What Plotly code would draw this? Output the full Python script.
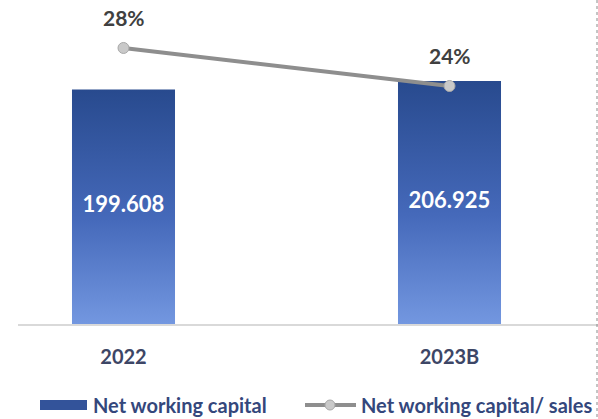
import plotly.graph_objects as go

# ---- data ----
categories = ["2022", "2023B"]
nwc_values = [199.608, 206.925]          # net working capital
nwc_to_sales_pct = [28, 24]              # net working capital / sales, %
series_names = ["Net working capital", "Net working capital/ sales"]

# ---- styling ----
FONT = "Lato"
W, H = 598, 419
ML, MR, MT, MB = 18, 0, 0, 95
PW, PH = W - ML - MR, H - MT - MB
BAR_WIDTH = 0.316
BAR_SCALE = [[0.0, "#7397e0"], [0.45, "#4569ba"], [1.0, "#284a8e"]]
LINE_COLOR = "#8e8e8e"
MARKER_COLOR = "#c9c9c9"
LABEL_NAVY = "#34477c"
CAT_COLOR = "#3d4666"


def px_x(px):
    return (px - ML) / PW


def px_y(py):
    return (MT + PH - py) / PH


positions = list(range(len(categories)))

fig = go.Figure()

# bars as gradient-filled rectangles on the primary axis
for i, v in zip(positions, nwc_values):
    fig.add_trace(go.Scatter(
        x=[i - BAR_WIDTH / 2, i + BAR_WIDTH / 2, i + BAR_WIDTH / 2, i - BAR_WIDTH / 2, i - BAR_WIDTH / 2],
        y=[0, 0, v, v, 0],
        fill="toself", mode="lines",
        line=dict(width=0, color="rgba(0,0,0,0)"),
        fillgradient=dict(type="vertical", colorscale=BAR_SCALE),
        name=series_names[0], hoverinfo="skip", showlegend=False,
    ))

# value labels in the middle of each bar
fig.add_trace(go.Scatter(
    x=positions, y=[v / 2 for v in nwc_values],
    mode="text", text=[f"{v:.3f}" for v in nwc_values],
    textposition="middle center",
    textfont=dict(family=FONT, size=22, color="white", weight="bold"),
    hoverinfo="skip", showlegend=False,
))

# ratio line on the secondary axis
fig.add_trace(go.Scatter(
    x=positions, y=nwc_to_sales_pct, yaxis="y2",
    mode="lines+markers", name=series_names[1],
    line=dict(color=LINE_COLOR, width=4),
    marker=dict(size=11, color=MARKER_COLOR, line=dict(color="#a8a8a8", width=1)),
    showlegend=False,
))

annotations = []
for i, p in zip(positions, nwc_to_sales_pct):
    annotations.append(dict(
        x=i, y=p, xref="x", yref="y2", text=f"{p}%", showarrow=False,
        yshift=30, font=dict(family=FONT, size=21, color="#404040", weight="bold"),
    ))

# legend drawn by hand below the axis
LEG_Y = 405
annotations += [
    dict(x=px_x(91), y=px_y(LEG_Y), xref="paper", yref="paper", xanchor="left", yanchor="middle",
         text=series_names[0], showarrow=False,
         font=dict(family=FONT, size=20, color=LABEL_NAVY, weight="bold")),
    dict(x=px_x(359), y=px_y(LEG_Y), xref="paper", yref="paper", xanchor="left", yanchor="middle",
         text=series_names[1], showarrow=False,
         font=dict(family=FONT, size=20, color=LABEL_NAVY, weight="bold")),
]

shapes = [
    dict(type="rect", xref="paper", yref="paper",
         x0=px_x(40), x1=px_x(87), y0=px_y(LEG_Y + 5), y1=px_y(LEG_Y - 5),
         fillcolor="#33539a", line=dict(width=0)),
    dict(type="line", xref="paper", yref="paper",
         x0=px_x(305), x1=px_x(356), y0=px_y(LEG_Y), y1=px_y(LEG_Y),
         line=dict(color=LINE_COLOR, width=4)),
    dict(type="circle", xref="paper", yref="paper",
         x0=px_x(325), x1=px_x(335), y0=px_y(LEG_Y + 5), y1=px_y(LEG_Y - 5),
         fillcolor=MARKER_COLOR, line=dict(color="#a8a8a8", width=1)),
    # dotted frame edge on the right
    dict(type="line", xref="paper", yref="paper",
         x0=px_x(597), x1=px_x(597), y0=px_y(0), y1=px_y(H),
         line=dict(color="#8a8a8a", width=1, dash="dot")),
]

fig.update_layout(
    width=W, height=H,
    margin=dict(l=ML, r=MR, t=MT, b=MB, pad=0),
    paper_bgcolor="white", plot_bgcolor="white",
    showlegend=False,
    xaxis=dict(
        range=[-0.3236, 1.4555], tickvals=positions, ticktext=categories,
        showline=True, linecolor="#d9d9d9", linewidth=2,
        showgrid=False, zeroline=False, ticks="",
        ticklabelstandoff=14,
        tickfont=dict(family=FONT, size=20, color=CAT_COLOR, weight="bold"),
    ),
    yaxis=dict(range=[0, 275.9], visible=False, showgrid=False, zeroline=False),
    yaxis2=dict(range=[-1.05, 33.05], overlaying="y", visible=False,
                showgrid=False, zeroline=False),
    annotations=annotations,
    shapes=shapes,
)

fig.write_html("out.html")
